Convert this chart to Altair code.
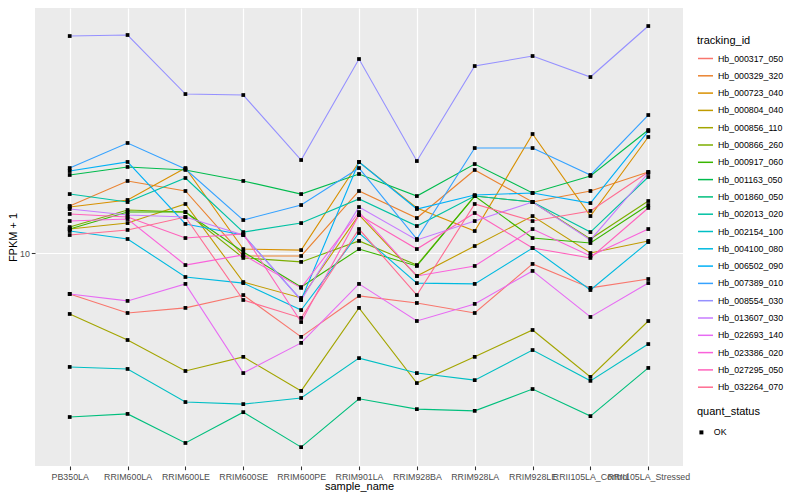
import altair as alt
import pandas as pd

samples = ["PB350LA", "RRIM600LA", "RRIM600LE", "RRIM600SE", "RRIM600PE",
           "RRIM901LA", "RRIM928BA", "RRIM928LA", "RRIM928LE",
           "RRII105LA_Control", "RRII105LA_Stressed"]

tracking_ids = ["Hb_000317_050", "Hb_000329_320", "Hb_000723_040", "Hb_000804_040",
                "Hb_000856_110", "Hb_000866_260", "Hb_000917_060", "Hb_001163_050",
                "Hb_001860_050", "Hb_002013_020", "Hb_002154_100", "Hb_004100_080",
                "Hb_006502_090", "Hb_007389_010", "Hb_008554_030", "Hb_013607_030",
                "Hb_022693_140", "Hb_023386_020", "Hb_027295_050", "Hb_032264_070"]

hue_colors = ["#F8766D", "#EA8331", "#D89000", "#C09B00", "#A3A500", "#7CAE00",
              "#39B600", "#00BB4E", "#00BF7D", "#00C1A3", "#00BFC4", "#00BAE0",
              "#00B0F6", "#35A2FF", "#9590FF", "#C77CFF", "#E76BF3", "#FA62DB",
              "#FF62BC", "#FF6C91"]

# FPKM + 1 per sample (order as in `samples`)
hb_000317_050 = [7.90, 7.08, 7.29, 7.85, 6.17, 7.81, 7.50, 7.08, 9.39, 8.18, 8.61]
hb_000329_320 = [13.11, 15.14, 14.29, 9.83, 9.83, 14.29, 12.23, 16.13, 13.41, 14.29, 15.94]
hb_000723_040 = [13.03, 13.57, 16.31, 10.23, 10.17, 16.89, 12.96, 11.35, 19.84, 12.37, 19.50]
hb_000804_040 = [11.48, 11.88, 13.26, 8.46, 7.72, 12.45, 8.76, 10.41, 12.37, 10.00, 10.72]
hb_000856_110 = [7.04, 6.06, 5.07, 5.50, 4.52, 7.29, 4.73, 5.50, 6.42, 4.90, 6.76]
hb_000866_260 = [11.61, 12.81, 12.66, 9.72, 9.50, 10.72, 9.33, 13.88, 13.41, 10.84, 13.49]
hb_000917_060 = [11.48, 12.66, 12.66, 10.06, 8.22, 10.23, 9.28, 13.88, 10.90, 10.59, 13.18]
hb_001163_050 = [15.67, 16.41, 16.13, 15.14, 14.04, 15.76, 13.88, 16.69, 14.13, 15.58, 20.30]
hb_001860_050 = [3.89, 3.96, 3.35, 4.00, 3.27, 4.32, 4.07, 4.03, 4.57, 3.91, 5.16]
hb_002013_020 = [14.04, 13.41, 15.40, 11.28, 11.88, 13.65, 11.68, 13.88, 13.41, 11.28, 15.49]
hb_002154_100 = [5.19, 5.13, 4.24, 4.19, 4.34, 5.46, 5.01, 4.81, 5.72, 4.79, 5.92]
hb_004100_080 = [11.35, 10.84, 8.71, 8.41, 7.20, 11.22, 8.41, 8.37, 10.29, 8.08, 10.65]
hb_006502_090 = [16.03, 16.89, 11.82, 11.09, 7.63, 16.89, 12.88, 13.96, 14.13, 13.33, 20.18]
hb_007389_010 = [16.31, 18.84, 16.22, 12.09, 13.18, 16.31, 10.84, 18.30, 18.30, 15.67, 22.13]
hb_008554_030 = [34.87, 35.08, 24.97, 24.83, 17.08, 30.55, 16.98, 29.34, 31.08, 27.54, 36.94]
hb_013607_030 = [12.88, 12.45, 12.30, 11.09, 7.63, 13.03, 10.78, 12.02, 13.41, 10.78, 15.85]
hb_022693_140 = [7.90, 7.59, 8.37, 5.01, 5.96, 8.37, 6.76, 7.46, 9.02, 6.92, 8.41]
hb_023386_020 = [12.02, 12.16, 9.33, 9.89, 8.18, 12.66, 8.76, 9.28, 11.48, 9.83, 11.48]
hb_027295_050 = [12.52, 12.30, 10.90, 11.16, 6.72, 12.45, 10.23, 12.59, 10.29, 9.72, 12.96]
hb_032264_070 = [11.09, 11.42, 12.30, 7.63, 6.88, 11.48, 7.85, 13.26, 12.02, 12.74, 15.94]

series = [hb_000317_050, hb_000329_320, hb_000723_040, hb_000804_040, hb_000856_110,
          hb_000866_260, hb_000917_060, hb_001163_050, hb_001860_050, hb_002013_020,
          hb_002154_100, hb_004100_080, hb_006502_090, hb_007389_010, hb_008554_030,
          hb_013607_030, hb_022693_140, hb_023386_020, hb_027295_050, hb_032264_070]

rows = []
for tid, vals in zip(tracking_ids, series):
    for s, v in zip(samples, vals):
        rows.append({"tracking_id": tid, "sample_name": s, "fpkm": v, "quant_status": "OK"})
df = pd.DataFrame(rows)

FONT = "Liberation Sans"

x_enc = alt.X(
    "sample_name:N", sort=samples,
    scale=alt.Scale(type="point", padding=0.6),
    axis=alt.Axis(
        title="sample_name", labelAngle=0, labelOverlap=False, labelFont=FONT,
        labelFontSize=8.8, labelColor="#4D4D4D", labelPadding=2.5,
        tickColor="#333333", tickSize=3.7, tickWidth=1.07, domain=False,
        grid=True, gridColor="white", gridWidth=1.2,
        titleFont=FONT, titleFontSize=11, titleFontWeight="normal", titleColor="black",
        titleBaseline="alphabetic", titleY=23,
    ),
)
y_enc = alt.Y(
    "fpkm:Q",
    scale=alt.Scale(type="log", domain=[2.934, 40.98], nice=False),
    axis=alt.Axis(
        title="FPKM + 1", values=[10], format="~g", labelFont=FONT,
        labelFontSize=8.8, labelColor="#4D4D4D", labelPadding=2,
        tickColor="#333333", tickSize=3.7, tickWidth=1.07, domain=False,
        grid=True, gridColor="white", gridWidth=1.2,
        titleFont=FONT, titleFontSize=11, titleFontWeight="normal", titleColor="black",
        titleX=-22, titleY=229, titleBaseline="middle",
    ),
)

lines = alt.Chart(df).mark_line(strokeWidth=1.1).encode(
    x=x_enc, y=y_enc,
    color=alt.Color(
        "tracking_id:N",
        scale=alt.Scale(domain=tracking_ids, range=hue_colors),
        legend=alt.Legend(
            title="tracking_id", orient="none", legendX=662, legendY=27,
            symbolType="stroke", symbolSize=225, symbolStrokeWidth=1.5,
            rowPadding=3.3, labelOffset=4, padding=0, titlePadding=4,
            labelFont=FONT, labelFontSize=8.8, labelColor="black",
            titleFont=FONT, titleFontSize=11, titleFontWeight="normal", titleColor="black",
        ),
    ),
)

points = alt.Chart(df).mark_point(filled=True, size=14, opacity=1, color="black").encode(
    x=x_enc, y=y_enc,
    shape=alt.Shape(
        "quant_status:N",
        scale=alt.Scale(domain=["OK"], range=["square"]),
        legend=alt.Legend(
            title="quant_status", orient="none", legendX=662, legendY=398,
            symbolFillColor="black", symbolStrokeColor="black", symbolSize=16,
            labelOffset=8, padding=0, titlePadding=11,
            labelFont=FONT, labelFontSize=8.8, labelColor="black",
            titleFont=FONT, titleFontSize=11, titleFontWeight="normal", titleColor="black",
        ),
    ),
)

chart = alt.layer(lines, points).properties(
    width=648, height=458,
    autosize=alt.AutoSizeParams(type="none"),
    padding={"left": 27, "top": 0, "right": 109, "bottom": 26},
    background="white",
).configure_view(fill="#EBEBEB", stroke=None)

chart.save("out.html", embed_options={"renderer": "svg", "actions": False})
